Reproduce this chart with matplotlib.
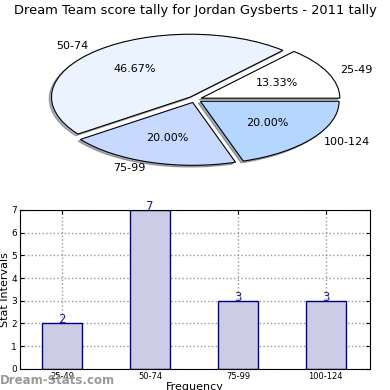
import matplotlib
matplotlib.use('Agg')
import matplotlib.pyplot as plt

# score intervals and how often each came up
intervals = ['25-49', '50-74', '75-99', '100-124']
counts = [2, 7, 3, 3]
pie_colors = ['#ffffff', '#ebf3ff', '#c8d9ff', '#b4d6ff']

fig = plt.figure(figsize=(3.9, 3.9), dpi=100)

# pie on top, squashed like the old matplotlib output
ax1 = fig.add_axes([0.055, 0.5435, 0.889, 0.403])
ax1.pie(counts, labels=intervals, colors=pie_colors, autopct='%1.2f%%',
        explode=[0.05] * len(counts),
        shadow={'ox': -0.012, 'oy': -0.02, 'shade': 0.6},
        wedgeprops={'edgecolor': 'black', 'linewidth': 0.8},
        textprops={'fontsize': 8})
ax1.set_aspect('auto')
fig.text(0.5, 0.974, 'Dream Team score tally for Jordan Gysberts - 2011 tally',
         ha='center', va='center', fontsize=9.4)

# bar chart underneath
ax2 = fig.add_axes([0.051, 0.054, 0.897, 0.408])
x = range(len(intervals))
ax2.bar(x, counts, width=0.45, color='#ccccе6'.replace('е', 'e'),
        edgecolor='#000080', linewidth=1, zorder=2)
for xi, c in zip(x, counts):
    ax2.text(xi, c, str(c), ha='center', va='baseline', fontsize=8.5,
             color='#20208a', zorder=3)
ax2.set_xlim(-0.48, 3.5)
ax2.set_ylim(0, 7)
ax2.set_xticks(list(x))
ax2.set_xticklabels(intervals, fontsize=6)
ax2.set_yticks(range(8))
ax2.tick_params(axis='y', labelsize=6.5, pad=2)
ax2.tick_params(axis='x', pad=2)
ax2.tick_params(direction='in', top=True, right=True, length=3)
ax2.grid(True, linestyle=':', color='#999999', linewidth=1, zorder=0)
ax2.set_axisbelow(True)
ax2.set_ylabel('Stat Intervals', fontsize=8, labelpad=1)
ax2.set_xlabel('Frequency', fontsize=8, labelpad=1)

fig.text(0.0, 0.008, 'Dream-Stats.com', fontsize=8.5, color='#999999',
         fontweight='bold', ha='left', va='bottom')

fig.savefig('out.png', dpi=100)
